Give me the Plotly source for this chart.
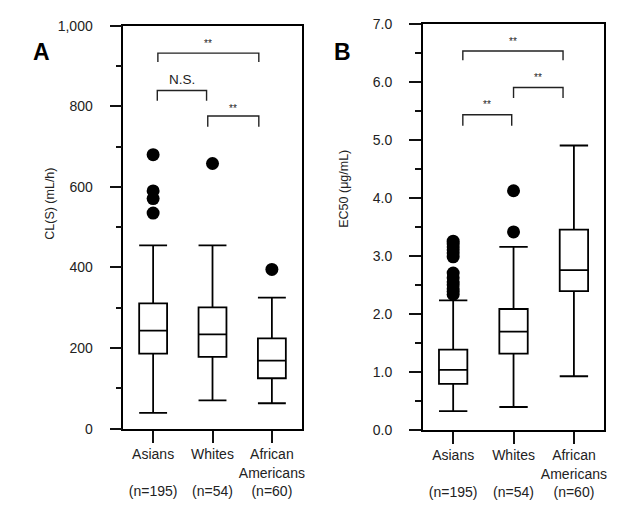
import plotly.graph_objects as go

W, H = 619, 510

# ---------------- data ----------------
groups = ["Asians", "Whites", "African Americans"]
tick_text = ["Asians<br> <br>(n=195)", "Whites<br> <br>(n=54)", "African<br>Americans<br>(n=60)"]

# Panel A: CL(S) (mL/h)
cl_low = [39, 70, 63]
cl_q1 = [186, 178, 125]
cl_med = [243, 234, 169]
cl_q3 = [311, 301, 224]
cl_high = [455, 455, 325]
cl_out_asians = [680, 590, 571, 535]
cl_out_whites = [658]
cl_out_aa = [395]

# Panel B: EC50 (ug/mL)
ec_low = [0.32, 0.39, 0.92]
ec_q1 = [0.79, 1.31, 2.39]
ec_med = [1.03, 1.69, 2.75]
ec_q3 = [1.38, 2.08, 3.45]
ec_high = [2.23, 3.15, 4.90]
ec_out_asians = [2.33, 2.38, 2.43, 2.50, 2.55, 2.62, 2.70, 2.98, 3.05, 3.10, 3.15, 3.20, 3.25]
ec_out_whites = [3.41, 4.12]
ec_out_aa = []

# significance brackets: (left, right, top, leg bottom, label, label y)
brackets_a = [(0.08, 1.78, 932, 910, "**", 955),
              (0.07, 0.90, 839, 814, "N.S.", 866),
              (0.92, 1.78, 776, 749, "**", 795)]
brackets_b = [(0.16, 1.82, 6.53, 6.37, "**", 6.70),
              (1.00, 1.82, 5.90, 5.72, "**", 6.07),
              (0.16, 0.97, 5.43, 5.24, "**", 5.60)]

FONT = "Liberation Sans, Arial, sans-serif"
TXT = "#222222"
TICK = "#111111"

def px(x):
    return x / W

def py(y):
    return 1 - y / H

fig = go.Figure()

def add_panel(xa, ya, low, q1, med, q3, high, outs, brackets):
    for i in range(3):
        fig.add_trace(go.Box(
            x=[i], q1=[q1[i]], median=[med[i]], q3=[q3[i]],
            lowerfence=[low[i]], upperfence=[high[i]],
            width=0.47, whiskerwidth=1, fillcolor="white",
            line=dict(color="black", width=1.8), boxpoints=False,
            xaxis=xa, yaxis=ya, showlegend=False, hoverinfo="skip"))
        if outs[i]:
            fig.add_trace(go.Scatter(
                x=[i] * len(outs[i]), y=outs[i], mode="markers",
                marker=dict(color="black", size=13),
                xaxis=xa, yaxis=ya, showlegend=False, hoverinfo="skip"))
    for (l, r, top, leg, lab, ly) in brackets:
        fig.add_trace(go.Scatter(
            x=[l, l, r, r], y=[leg, top, top, leg], mode="lines",
            line=dict(color="#222", width=1.4),
            xaxis=xa, yaxis=ya, showlegend=False, hoverinfo="skip"))
        fig.add_annotation(x=(l + r) / 2, y=ly, text=lab, showarrow=False,
                           xref=xa, yref=ya,
                           font=dict(size=10 if lab == "**" else 13.5, family=FONT, color=TXT))

add_panel("x", "y", cl_low, cl_q1, cl_med, cl_q3, cl_high,
          [cl_out_asians, cl_out_whites, cl_out_aa], brackets_a)
add_panel("x2", "y2", ec_low, ec_q1, ec_med, ec_q3, ec_high,
          [ec_out_asians, ec_out_whites, ec_out_aa], brackets_b)

xcommon = dict(range=[-0.5, 2.5], tickvals=[0, 1, 2], ticktext=tick_text,
               ticks="outside", ticklen=12, tickwidth=1.6, tickcolor=TICK,
               showline=True, linecolor="black", linewidth=1.8, mirror=True,
               showgrid=False, zeroline=False,
               tickfont=dict(size=14, family=FONT, color=TXT))
ycommon = dict(ticks="outside", ticklen=12, tickwidth=1.6, tickcolor=TICK,
               showline=True, linecolor="black", linewidth=1.8, mirror=True,
               showgrid=False, zeroline=False, ticksuffix="\u2003",
               tickfont=dict(size=14, family=FONT, color=TXT))

fig.update_layout(
    width=W, height=H, margin=dict(l=0, r=0, t=0, b=0),
    paper_bgcolor="white", plot_bgcolor="white",
    xaxis=dict(domain=[px(116), px(295)], anchor="y", **xcommon),
    yaxis=dict(domain=[py(426), py(10)], anchor="x", range=[0, 1000],
               tickmode="linear", tick0=0, dtick=200, tickformat=",d",
               minor=dict(ticks="outside", ticklen=6, tickwidth=1.6,
                          tickcolor=TICK, dtick=100),
               **ycommon),
    xaxis2=dict(domain=[px(417), px(599)], anchor="y2", **xcommon),
    yaxis2=dict(domain=[py(427), py(8)], anchor="x2", range=[0, 7.0],
                tickmode="linear", tick0=0, dtick=1, tickformat=".1f",
                minor=dict(ticks="outside", ticklen=6, tickwidth=1.6,
                           tickcolor=TICK, dtick=0.5),
                **ycommon),
)

# panel letters and axis titles
fig.add_annotation(x=px(23), y=py(22), xref="paper", yref="paper", text="<b>A</b>",
                   showarrow=False, font=dict(size=23, family=FONT, color="black"))
fig.add_annotation(x=px(336), y=py(22), xref="paper", yref="paper", text="<b>B</b>",
                   showarrow=False, font=dict(size=23, family=FONT, color="black"))
fig.add_annotation(x=px(33), y=py(194), xref="paper", yref="paper", text="CL(S) (mL/h)",
                   textangle=-90, showarrow=False, font=dict(size=12.5, family=FONT, color=TXT))
fig.add_annotation(x=px(338), y=py(178), xref="paper", yref="paper", text="EC50 (μg/mL)",
                   textangle=-90, showarrow=False, font=dict(size=12.5, family=FONT, color=TXT))

fig.write_html("out.html")
